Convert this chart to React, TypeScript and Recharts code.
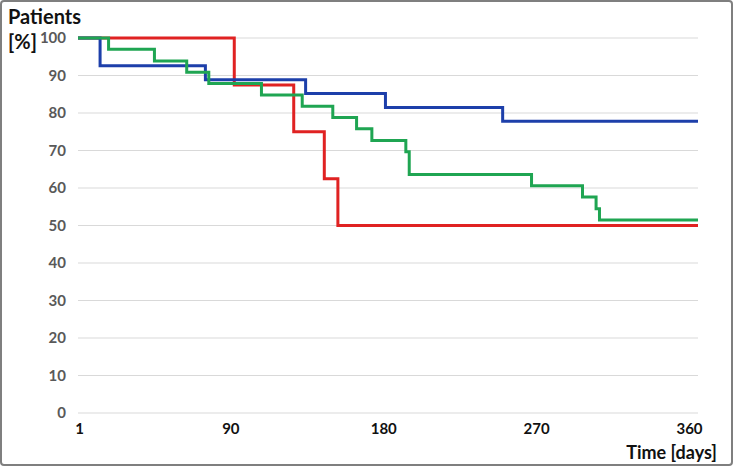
import { LineChart, Line, XAxis, YAxis, CartesianGrid } from "recharts";

const blueDays = [0, 13, 75, 134, 181, 250, 365];
const blueVals = [100, 92.6, 88.9, 85.2, 81.5, 77.8, 77.8];

const redDays = [0, 92, 127, 145, 153, 365];
const redVals = [100, 87.5, 75, 62.5, 50, 50];

const greenDays = [0, 18, 45, 64, 77, 108, 132, 150, 164, 173, 193, 195, 267, 297, 305, 307, 365];
const greenVals = [100, 97, 93.9, 90.9, 87.9, 84.8, 81.8, 78.8, 75.8, 72.7, 69.7, 63.6, 60.6, 57.6, 54.5, 51.5, 51.5];

const xTicks = [1, 90, 180, 270, 360];
const yTicks = [0, 10, 20, 30, 40, 50, 60, 70, 80, 90, 100];

const toSeries = (days: number[], vals: number[]) => days.map((d, i) => ({ day: d, pct: vals[i] }));

const blueData = toSeries(blueDays, blueVals);
const redData = toSeries(redDays, redVals);
const greenData = toSeries(greenDays, greenVals);

const font = "Lato, 'Open Sans', sans-serif";

export default function App() {
  return (
    <div
      style={{
        position: "absolute",
        left: 0,
        top: 0,
        width: 733,
        height: 466,
        boxSizing: "border-box",
        border: "2px solid #7f7f7f",
        borderRadius: 4,
        background: "#fff",
        fontFamily: font,
      }}
    >
      <div style={{ position: "absolute", left: 6, top: 2, fontWeight: 700, fontSize: 20, lineHeight: "25px", color: "#111" }}>
        Patients
        <br />
        [%]
      </div>
      <div style={{ position: "absolute", right: 14, bottom: 1, fontWeight: 700, fontSize: 18, color: "#111" }}>
        Time [days]
      </div>
      <div style={{ position: "absolute", left: -2, top: -2 }}>
        <LineChart width={733} height={466} margin={{ top: 38, right: 35, bottom: 23, left: 0 }}>
          <CartesianGrid horizontal vertical={false} stroke="#d9d9d9" strokeWidth={1} />
          <XAxis
            type="number"
            dataKey="day"
            domain={[0, 365]}
            ticks={xTicks}
            allowDuplicatedCategory={false}
            axisLine={false}
            tickLine={false}
            tickSize={0}
            tickMargin={10}
            interval={0}
            tick={{ fontSize: 15, fontWeight: 700, fill: "#111", fontFamily: font }}
          />
          <YAxis
            type="number"
            domain={[0, 100]}
            ticks={yTicks}
            width={78}
            axisLine={false}
            tickLine={false}
            tickSize={0}
            tickMargin={12}
            interval={0}
            tick={{ fontSize: 15, fontWeight: 700, fill: "#595959", fontFamily: font }}
          />
          <Line data={redData} dataKey="pct" type="stepAfter" stroke="#e02222" strokeWidth={3} dot={false} isAnimationActive={false} />
          <Line data={blueData} dataKey="pct" type="stepAfter" stroke="#1d3faa" strokeWidth={3} dot={false} isAnimationActive={false} />
          <Line data={greenData} dataKey="pct" type="stepAfter" stroke="#1fa552" strokeWidth={3} dot={false} isAnimationActive={false} />
        </LineChart>
      </div>
    </div>
  );
}
